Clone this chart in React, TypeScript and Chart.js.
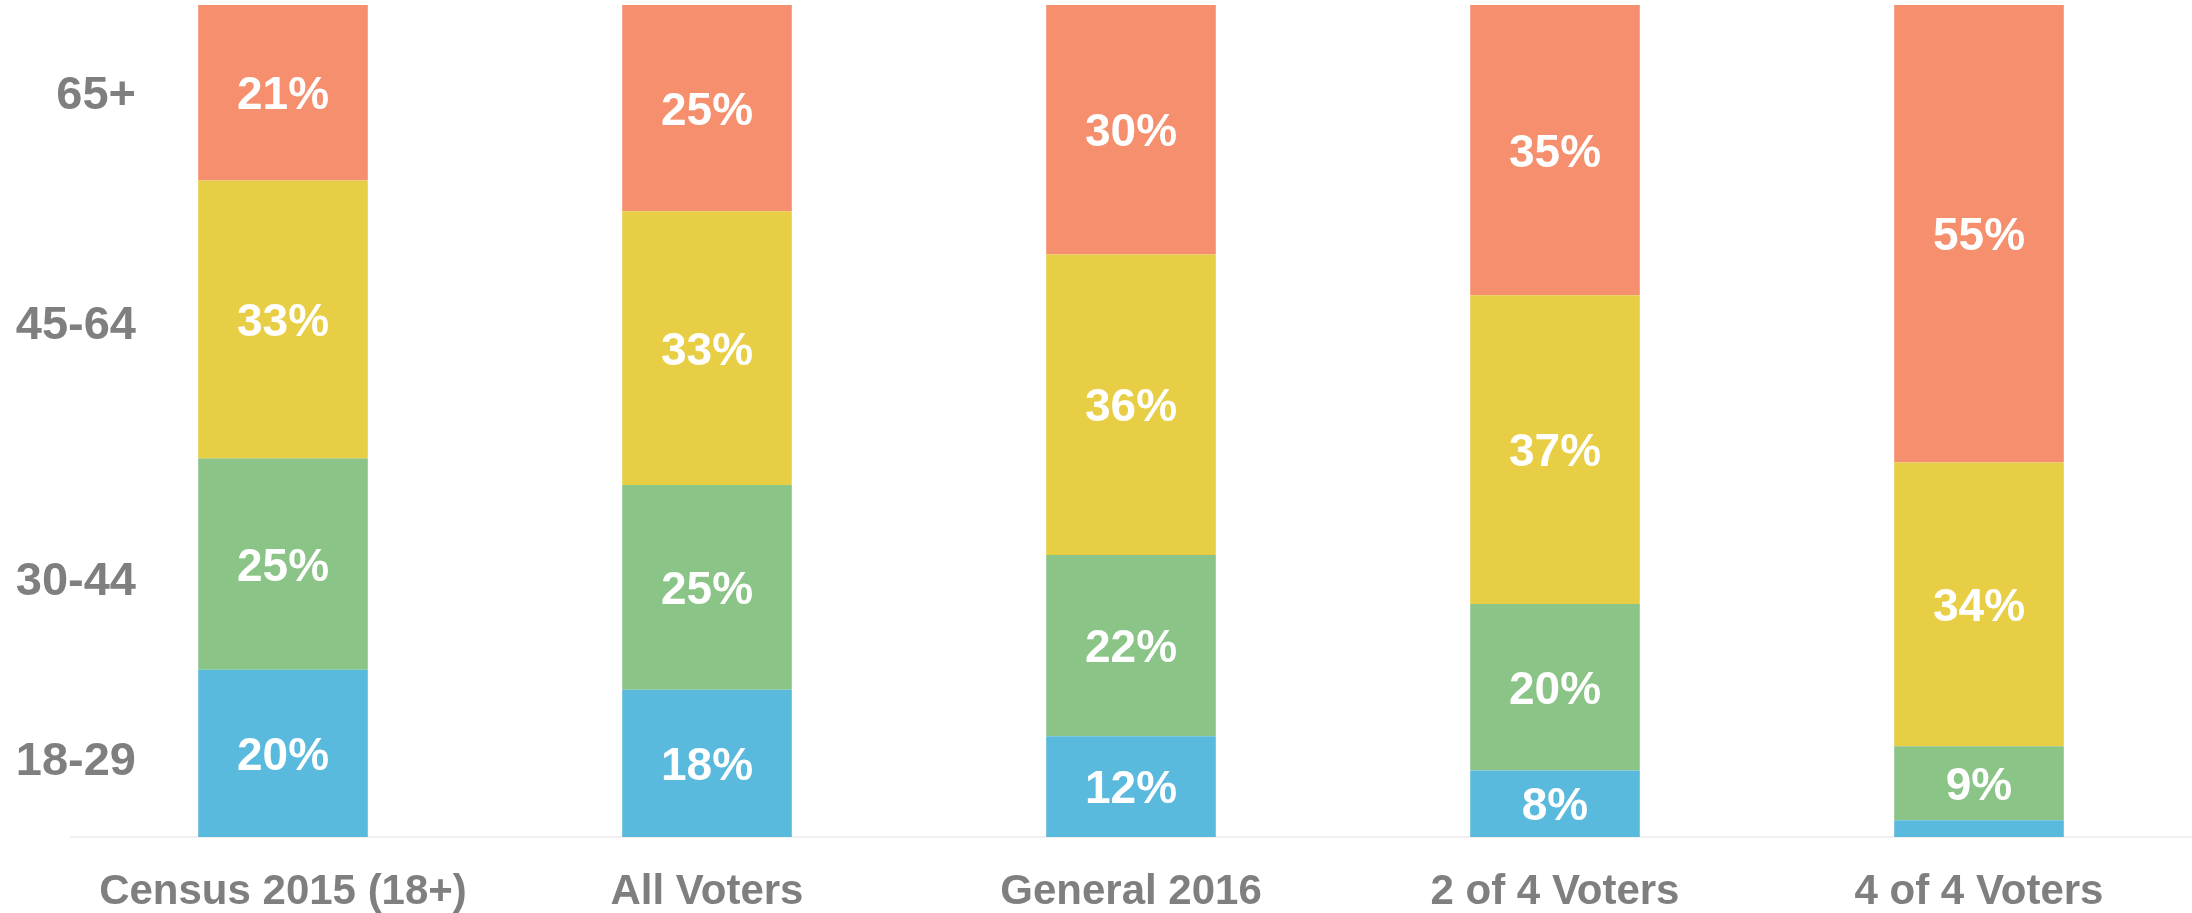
import React, { useEffect, useRef } from "react";
import { Chart, registerables } from "chart.js";

Chart.register(...registerables);

const categories = ["Census 2015 (18+)", "All Voters", "General 2016", "2 of 4 Voters", "4 of 4 Voters"];
const ageGroups = ["18-29", "30-44", "45-64", "65+"];
const age18to29 = [20.1, 17.7, 12.1, 8.0, 2.0];
const age30to44 = [25.4, 24.6, 21.8, 20.0, 8.9];
const age45to64 = [33.4, 32.9, 36.1, 37.1, 34.1];
const age65plus = [21.1, 24.8, 30.0, 34.9, 55.0];
// where the age-group labels sit on the 0-100 scale
const ageLabelAt = [9.6, 31.2, 62.0, 89.7];

const COLORS = ["#5ABADD", "#8AC487", "#E8CE44", "#F58F6D"];
const GRAY = "#7f7f7f";
const FONT = "'Liberation Sans', Arial, sans-serif";

const valueLabels = {
  id: "valueLabels",
  afterDatasetsDraw(chart: any) {
    const ctx = chart.ctx;
    ctx.save();
    ctx.fillStyle = "#ffffff";
    ctx.font = `bold 46px ${FONT}`;
    ctx.textAlign = "center";
    ctx.textBaseline = "middle";
    chart.data.datasets.forEach((ds: any, di: number) => {
      const meta = chart.getDatasetMeta(di);
      meta.data.forEach((el: any, i: number) => {
        const v = ds.data[i];
        if (v < 5) return;
        const { x, y, base } = el.getProps(["x", "y", "base"], true);
        ctx.fillText(`${Math.round(v)}%`, x, (y + base) / 2 + 4);
      });
    });
    ctx.restore();
  },
};

const ageAxisLabels = {
  id: "ageAxisLabels",
  afterDraw(chart: any) {
    const ctx = chart.ctx;
    const y = chart.scales.y;
    ctx.save();
    ctx.fillStyle = GRAY;
    ctx.font = `bold 47px ${FONT}`;
    ctx.textAlign = "right";
    ctx.textBaseline = "middle";
    ageGroups.forEach((g, i) => {
      ctx.fillText(g, 136, y.getPixelForValue(ageLabelAt[i]) + 5);
    });
    ctx.restore();
  },
};

export default function App() {
  const ref = useRef<HTMLCanvasElement | null>(null);
  useEffect(() => {
    document.body.style.margin = "0";
    const series = [age18to29, age30to44, age45to64, age65plus];
    const chart = new Chart(ref.current as HTMLCanvasElement, {
      type: "bar",
      data: {
        labels: categories,
        datasets: series.map((d, i) => ({
          label: ageGroups[i],
          data: d,
          backgroundColor: COLORS[i],
          borderWidth: 0,
          barPercentage: 0.4,
          categoryPercentage: 1,
        })),
      },
      options: {
        animation: false,
        responsive: false,
        maintainAspectRatio: false,
        layout: { padding: { left: 71, right: 1, top: 5, bottom: 0 } },
        plugins: { legend: { display: false }, tooltip: { enabled: false } },
        scales: {
          x: {
            stacked: true,
            grid: { display: false, drawTicks: false },
            border: { display: true, color: "#f0f0f0", width: 2 },
            ticks: { color: GRAY, font: { family: FONT, size: 42, weight: "bold" }, padding: 30, maxRotation: 0 },
            afterFit(scale: any) {
              scale.height = 76;
            },
          },
          y: {
            stacked: true,
            display: false,
            min: 0,
            max: 100,
          },
        },
      },
      plugins: [valueLabels, ageAxisLabels],
    });
    return () => chart.destroy();
  }, []);
  return (
    <div style={{ position: "absolute", left: 0, top: 0, width: 2192, height: 913, background: "#fff" }}>
      <canvas ref={ref} width={2192} height={913} style={{ width: 2192, height: 913 }} />
    </div>
  );
}
